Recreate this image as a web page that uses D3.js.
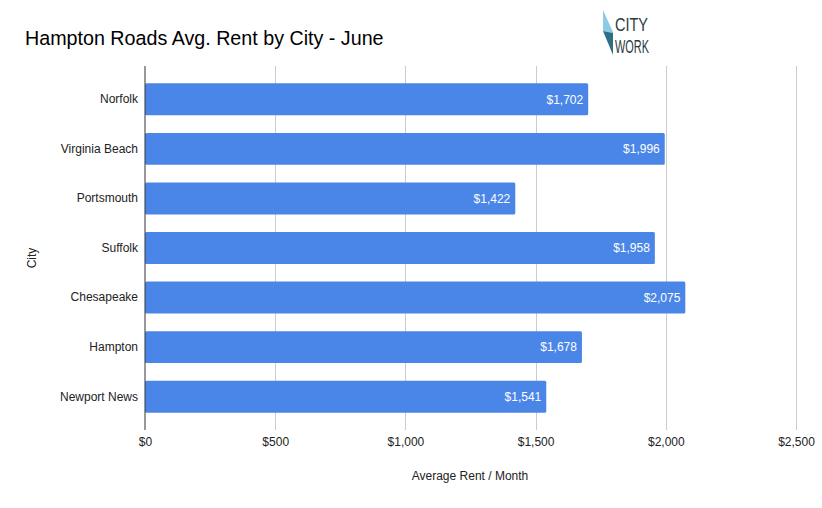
<!DOCTYPE html>
<html>
<head>
<meta charset="utf-8">
<script src="https://cdn.jsdelivr.net/npm/d3@7"></script>
<style>
  body { margin: 0; background: #fff; }
  text { font-family: Arial, "Liberation Sans", sans-serif; }
</style>
</head>
<body>
<svg id="chart" width="822" height="508"></svg>
<script>
// Data
var cities = ["Norfolk", "Virginia Beach", "Portsmouth", "Suffolk", "Chesapeake", "Hampton", "Newport News"];
var rents = [1702, 1996, 1422, 1958, 2075, 1678, 1541];
var xTicks = [0, 500, 1000, 1500, 2000, 2500];

var svg = d3.select("#chart");
var fmt = d3.format("$,.0f");

var x = d3.scaleLinear().domain([0, 2500]).range([145, 796]);
var y = d3.scaleBand().domain(cities).range([66, 430])
  .paddingInner(0.355).paddingOuter(0.35);

// title
svg.append("text")
  .attr("x", 25).attr("y", 45)
  .attr("font-size", 19.7)
  .attr("fill", "#000")
  .text("Hampton Roads Avg. Rent by City - June");

// logo
var logo = svg.append("g");
logo.append("polygon").attr("points", "603,10 613,32 613,33 603,31").attr("fill", "#8ecae3");
logo.append("polygon").attr("points", "603,31 613,33 613,55").attr("fill", "#2f6f86");
logo.append("text").attr("x", 615).attr("y", 31).attr("font-size", 18)
  .attr("font-family", "'DejaVu Sans Condensed', sans-serif")
  .attr("textLength", 33).attr("lengthAdjust", "spacingAndGlyphs")
  .attr("fill", "#2b3a42").text("CITY");
logo.append("text").attr("x", 615).attr("y", 53).attr("font-size", 18)
  .attr("font-family", "'DejaVu Sans Condensed', sans-serif")
  .attr("textLength", 34).attr("lengthAdjust", "spacingAndGlyphs")
  .attr("fill", "#2b3a42").text("WORK");

// gridlines
svg.append("g").selectAll("line")
  .data(xTicks.slice(1))
  .enter().append("line")
  .attr("x1", function(d) { return Math.round(x(d)) + 0.5; })
  .attr("x2", function(d) { return Math.round(x(d)) + 0.5; })
  .attr("y1", 66).attr("y2", 430)
  .attr("stroke", "#cccccc").attr("stroke-width", 1);

// x tick labels
var xAxis = d3.axisBottom(x).tickValues(xTicks).tickFormat(fmt).tickSize(0).tickPadding(0);
var gx = svg.append("g").attr("transform", "translate(0,437)").call(xAxis);
gx.select(".domain").remove();
gx.selectAll("text").attr("font-size", 12).attr("fill", "#222")
  .attr("font-family", "Arial, 'Liberation Sans', sans-serif");

// bars
svg.append("g").selectAll("rect")
  .data(rents)
  .enter().append("rect")
  .attr("x", x(0))
  .attr("y", function(d, i) { return y(cities[i]); })
  .attr("width", function(d) { return x(d) - x(0); })
  .attr("height", y.bandwidth())
  .attr("rx", 1.5)
  .attr("fill", "#4a86e8");

// bar labels
svg.append("g").selectAll("text")
  .data(rents)
  .enter().append("text")
  .attr("x", function(d) { return x(d) - 5; })
  .attr("y", function(d, i) { return y(cities[i]) + y.bandwidth() / 2; })
  .attr("dy", "0.35em")
  .attr("text-anchor", "end")
  .attr("font-size", 12)
  .attr("fill", "#fff")
  .text(function(d) { return fmt(d); });

// y axis
var yAxis = d3.axisLeft(y).tickSize(0).tickPadding(7);
var gy = svg.append("g").attr("transform", "translate(145,0)").call(yAxis);
gy.select(".domain").remove();
gy.selectAll("text").attr("font-size", 12).attr("fill", "#222")
  .attr("font-family", "Arial, 'Liberation Sans', sans-serif");

svg.append("line")
  .attr("x1", 145).attr("x2", 145).attr("y1", 66).attr("y2", 430)
  .attr("stroke", "#333").attr("stroke-width", 1);

// axis titles
svg.append("text")
  .attr("x", 470).attr("y", 480)
  .attr("text-anchor", "middle")
  .attr("font-size", 12).attr("fill", "#222")
  .text("Average Rent / Month");

svg.append("text")
  .attr("transform", "translate(36,258) rotate(-90)")
  .attr("text-anchor", "middle")
  .attr("font-size", 12).attr("fill", "#222")
  .text("City");
</script>
</body>
</html>
